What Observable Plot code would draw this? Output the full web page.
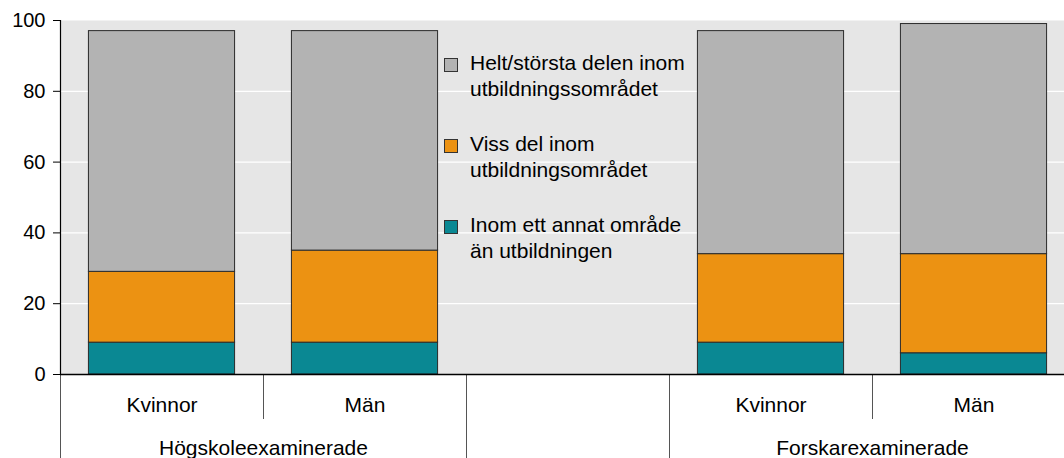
<!DOCTYPE html>
<html>
<head>
<meta charset="utf-8">
<script src="https://cdn.jsdelivr.net/npm/d3@7"></script>
<script src="https://cdn.jsdelivr.net/npm/@observablehq/plot@0.6"></script>
<style>
  html, body { margin: 0; padding: 0; background: white; overflow: hidden; }
  #wrap { position: relative; width: 1064px; height: 458px; font-family: "Liberation Sans", Arial, sans-serif; }
  .legend { position: absolute; left: 444px; font-size: 21px; line-height: 26px; color: #000; }
  .legend .item { position: absolute; left: 0; width: 300px; }
  .legend .sw { position: absolute; left: 0; top: 8px; width: 12px; height: 12px; border: 1px solid #333; }
  .legend .lbl { position: absolute; left: 26px; top: 0; white-space: nowrap; }
</style>
</head>
<body>
<div id="wrap"></div>
<script>
// Data
const groups = ["Högskoleexaminerade", "Forskarexaminerade"];
const categories = ["Kvinnor", "Män"];
const series = [
  "Inom ett annat område än utbildningen",
  "Viss del inom utbildningsområdet",
  "Helt/största delen inom utbildningsområdet"
];
const legendLines = [
  ["Inom ett annat område", "än utbildningen"],
  ["Viss del inom", "utbildningsområdet"],
  ["Helt/största delen inom", "utbildningssområdet"]
];
const colors = ["#0a8893", "#ec9212", "#b3b3b3"];
// values per bar: [Högskole Kvinnor, Högskole Män, Forskare Kvinnor, Forskare Män]
const annatOmrade = [9, 9, 9, 6];
const vissDel = [20, 26, 25, 28];
const heltStorsta = [68, 62, 63, 65];
const yTicks = [0, 20, 40, 60, 80, 100];

const seriesValues = [annatOmrade, vissDel, heltStorsta];
const rows = [];
groups.forEach((g, gi) => {
  categories.forEach((c, ci) => {
    const bi = gi * 2 + ci;
    const slot = gi * 3 + ci; // one empty slot between groups
    series.forEach((s, si) => {
      rows.push({group: g, category: c, slot, series: s, value: seriesValues[si][bi]});
    });
  });
});
const catBySlot = new Map(rows.map(d => [d.slot + 0.5, d.category]));
const groupTickPos = [1, 4];
const groupByPos = new Map([[1, groups[0]], [4, groups[1]]]);
const font = "Liberation Sans, Arial, sans-serif";

const chart = Plot.plot({
  width: 1064,
  height: 458,
  marginLeft: 60,
  marginRight: 0,
  marginTop: 20,
  marginBottom: 84,
  style: {fontFamily: font, fontSize: "21px", color: "#000", background: "white", overflow: "visible"},
  x: {type: "linear", domain: [0, 5], range: [60, 1075], axis: null},
  y: {domain: [0, 100], axis: null},
  color: {domain: series, range: colors},
  marks: [
    Plot.frame({fill: "#e6e6e6", stroke: null}),
    Plot.gridY(yTicks.filter(d => d > 0 && d < 100), {stroke: "white", strokeOpacity: 1, strokeWidth: 1.2}),
    Plot.rectY(rows, {
      x1: d => d.slot + 0.14,
      x2: d => d.slot + 0.86,
      y: "value",
      fill: "series",
      stroke: "#2a2a2a",
      strokeWidth: 1
    }),
    Plot.axisY({ticks: yTicks, tickSize: 7, tickPadding: 8, fontSize: 20, stroke: "#000", label: null}),
    // category labels
    Plot.axisX({ticks: [...catBySlot.keys()], tickSize: 0, tickPadding: 23, tickFormat: d => catBySlot.get(d), fontSize: 21, label: null}),
    // group labels
    Plot.axisX({ticks: groupTickPos, tickSize: 0, tickPadding: 66, tickFormat: d => groupByPos.get(d), fontSize: 21, label: null}),
    // separators below axis
    Plot.axisX({ticks: groupTickPos, tickSize: 45, tickFormat: () => "", stroke: "#555", label: null}),
    Plot.axisX({ticks: [0, 2, 3], tickSize: 84, tickFormat: () => "", stroke: "#555", label: null}),
    Plot.ruleX([0], {y1: 0, y2: 100, stroke: "#000", strokeWidth: 1.2}),
    Plot.ruleY([0], {stroke: "#000", strokeWidth: 1.5})
  ]
});

const wrap = document.getElementById("wrap");
wrap.appendChild(chart);

// Legend (top item first, as in the reference)
const legend = document.createElement("div");
legend.className = "legend";
legend.style.top = "50px";
const order = [2, 1, 0];
order.forEach((si, k) => {
  const item = document.createElement("div");
  item.className = "item";
  item.style.top = (k * 81) + "px";
  const sw = document.createElement("div");
  sw.className = "sw";
  sw.style.background = colors[si];
  const lbl = document.createElement("div");
  lbl.className = "lbl";
  lbl.innerHTML = legendLines[si].join("<br>");
  item.appendChild(sw);
  item.appendChild(lbl);
  legend.appendChild(item);
});
wrap.appendChild(legend);
</script>
</body>
</html>
